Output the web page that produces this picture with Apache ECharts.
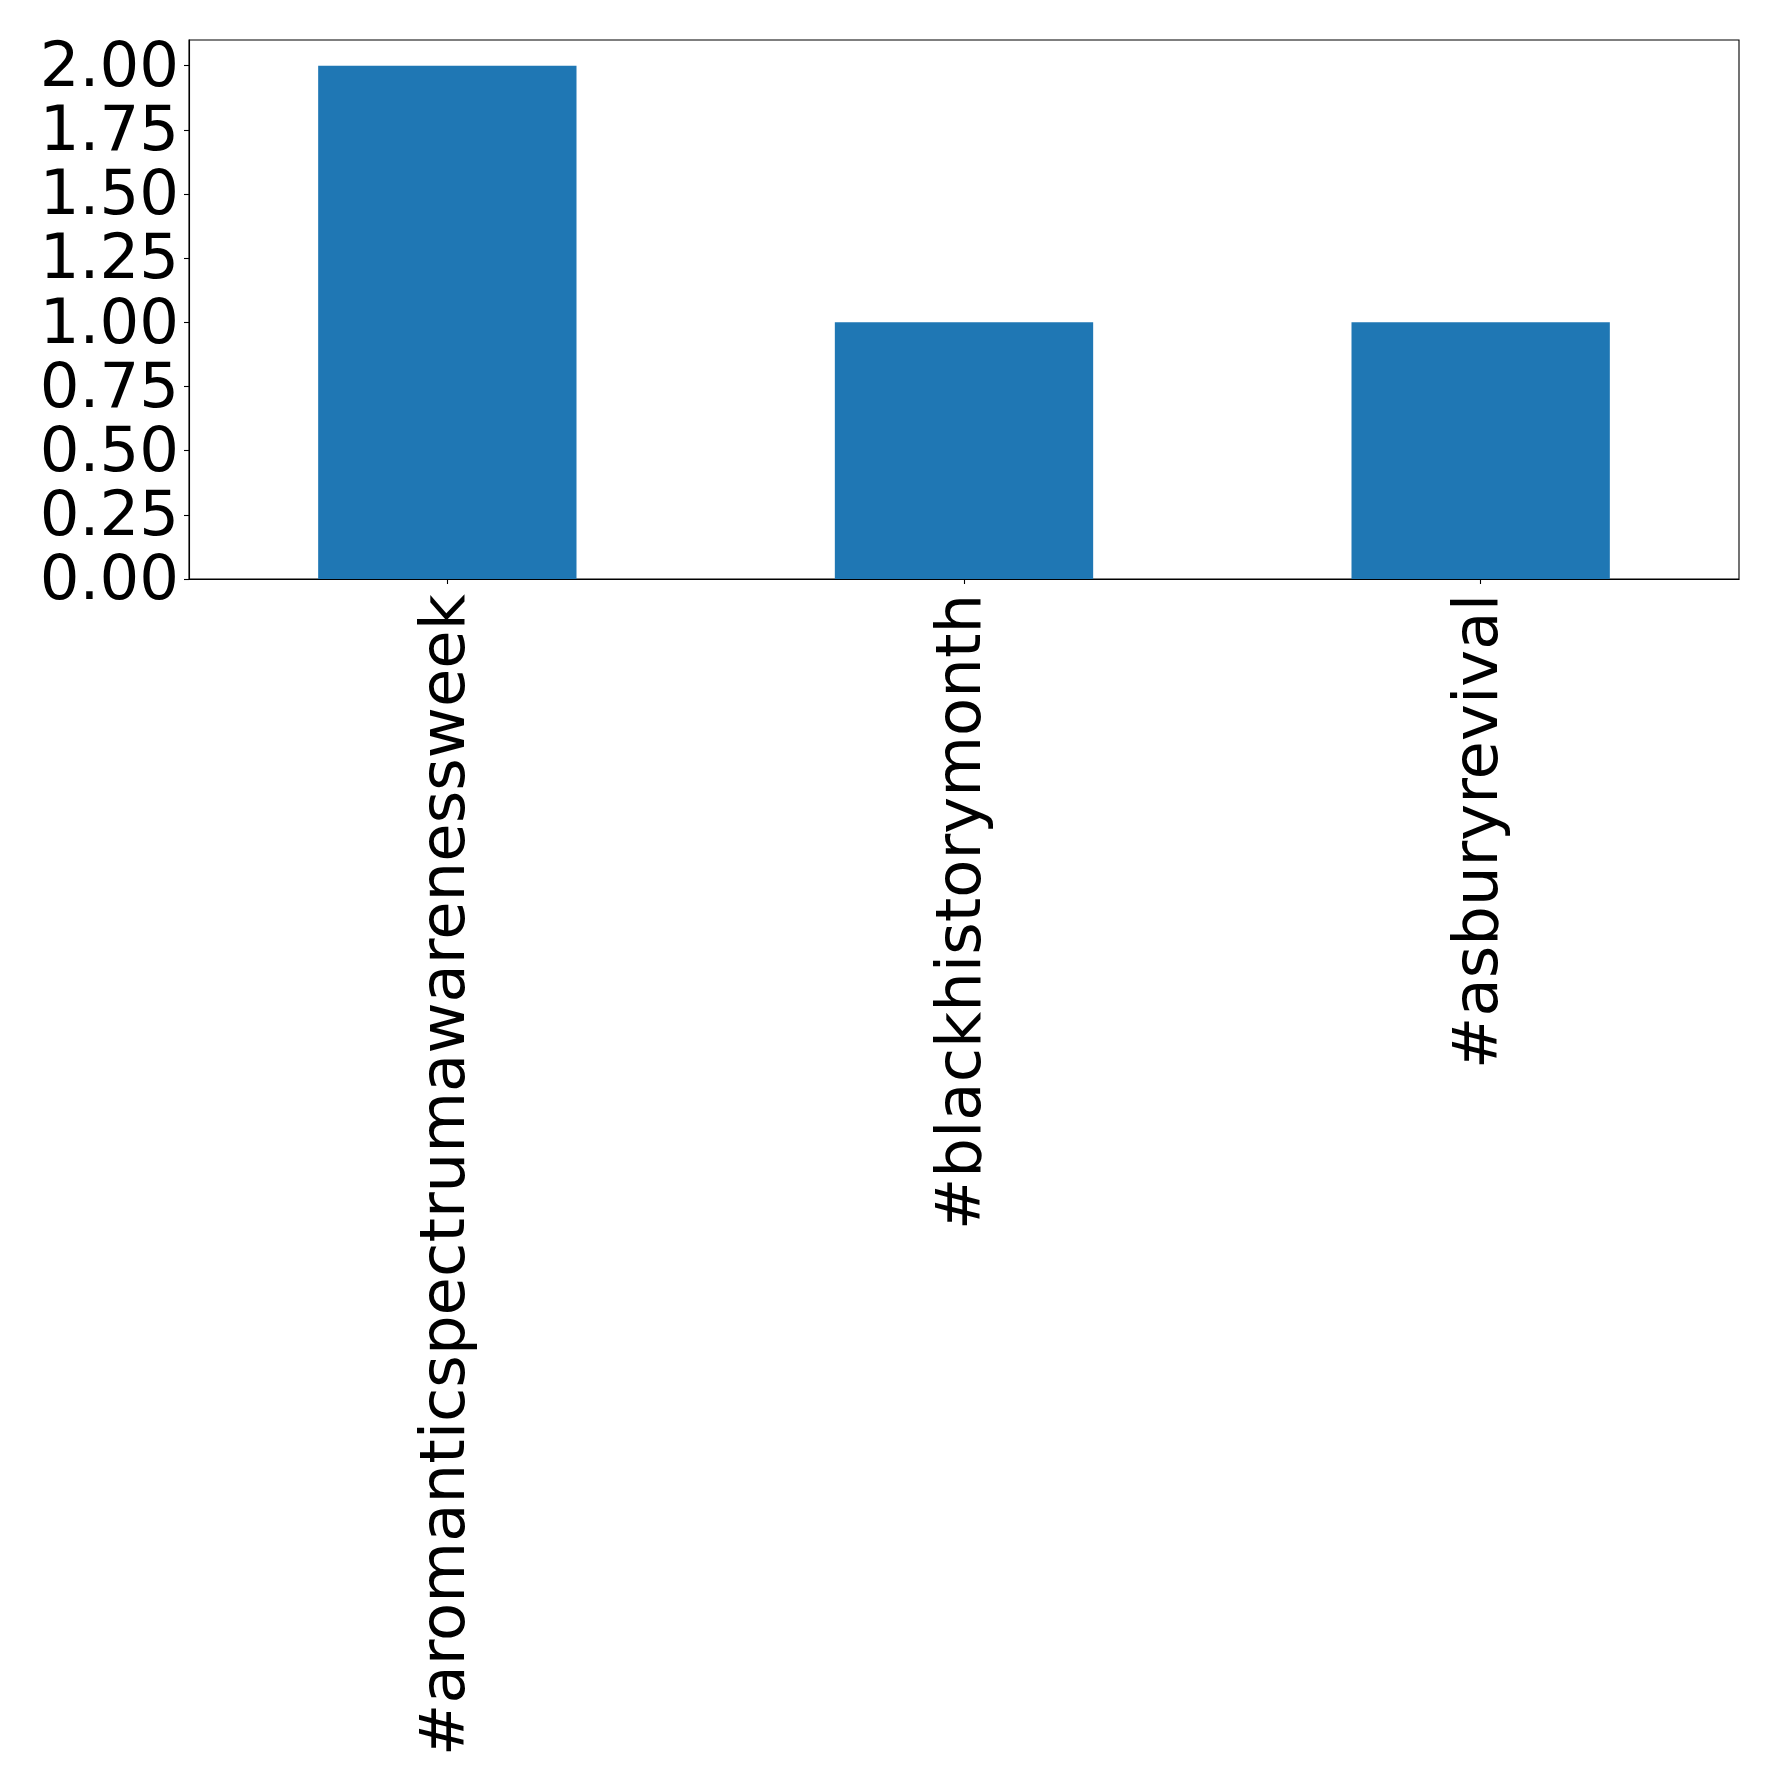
<!DOCTYPE html>
<html><head><meta charset="utf-8">
<script src="https://cdn.jsdelivr.net/npm/echarts@6/dist/echarts.min.js"></script>
<style>html,body{margin:0;padding:0;background:#fff}#c{width:1778px;height:1790px}</style>
</head><body><div id="c"></div>
<script>
const categories = ['#aromanticspectrumawarenessweek', '#blackhistorymonth', '#asburyrevival'];
const counts = [2, 1, 1];
const yTicks = [0, 0.25, 0.5, 0.75, 1.0, 1.25, 1.5, 1.75, 2.0];

const chart = echarts.init(document.getElementById('c'), null, {renderer: 'canvas'});
const font = 'DejaVu Sans';
chart.setOption({
  animation: false,
  backgroundColor: '#fff',
  grid: {left: 189, top: 40, right: 39, bottom: 1211, show: true, borderColor: '#000', borderWidth: 1.1, backgroundColor: 'transparent'},
  xAxis: {
    type: 'category', data: categories,
    axisLine: {show: true, lineStyle: {color: '#000', width: 1.1}},
    axisTick: {show: true, alignWithLabel: true, length: 5, lineStyle: {color: '#000', width: 1.1}},
    axisLabel: {rotate: 90, margin: 15, color: '#000', fontSize: 62.5, fontFamily: font},
    splitLine: {show: false}
  },
  yAxis: {
    type: 'value', min: 0, max: 2.1, interval: 0.25,
    axisLine: {show: true, lineStyle: {color: '#000', width: 1.1}},
    axisTick: {show: true, length: 5, customValues: yTicks, lineStyle: {color: '#000', width: 1.1}},
    axisLabel: {margin: 10, color: '#000', fontSize: 62.5, fontFamily: font, customValues: yTicks,
      showMinLabel: true, showMaxLabel: true, hideOverlap: false,
      verticalAlign: 'top', lineHeight: 8,
      formatter: v => v.toFixed(2)},
    splitLine: {show: false}
  },
  series: [{type: 'bar', data: counts, barWidth: '50%', itemStyle: {color: '#1f77b4'}}]
});
</script></body></html>
